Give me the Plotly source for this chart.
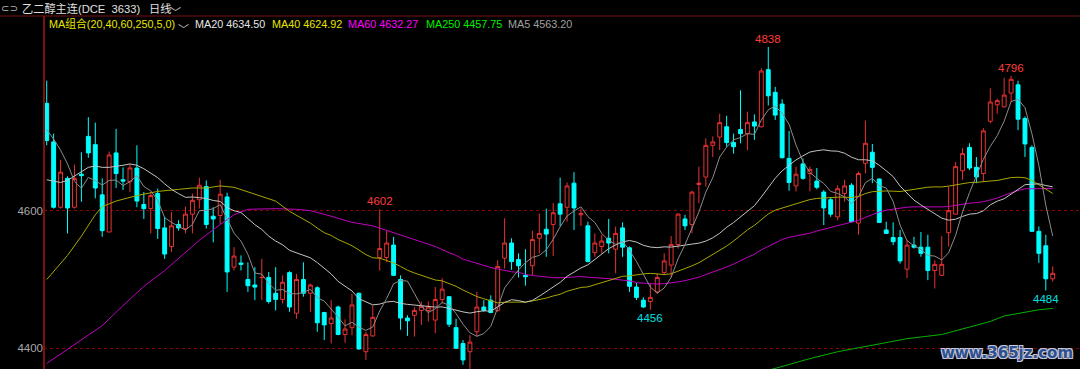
import plotly.graph_objects as go
import pandas as pd

# ---------------- data ----------------
opens = [4756, 4700, 4605, 4647, 4605, 4653, 4708, 4696, 4623, 4569,
         4684, 4645, 4642, 4662, 4609, 4603, 4625, 4575, 4548, 4580,
         4574, 4595, 4616, 4635, 4592, 4593, 4620, 4518, 4524, 4500,
         4492, 4503, 4503, 4480, 4471, 4510, 4451, 4500, 4480, 4488,
         4452, 4436, 4460, 4420, 4430, 4480, 4395, 4418, 4532, 4532,
         4550, 4500, 4444, 4448, 4455, 4455, 4441, 4471, 4475, 4430,
         4407, 4395, 4424, 4460, 4470, 4455, 4531, 4553, 4529, 4506,
         4520, 4560, 4573, 4580, 4610, 4605, 4640, 4594, 4578, 4539,
         4548, 4560, 4544, 4575, 4546, 4489, 4470, 4468, 4482, 4510,
         4521, 4551, 4588, 4580, 4638, 4649, 4695, 4707, 4722, 4699,
         4718, 4712, 4729, 4722, 4805, 4772, 4755, 4676, 4636, 4668,
         4654, 4643, 4627, 4616, 4591, 4625, 4637, 4582, 4669, 4685,
         4646, 4572, 4561, 4561, 4515, 4550, 4547, 4547, 4513, 4506,
         4568, 4595, 4658, 4692, 4663, 4654, 4730, 4754, 4751, 4771,
         4783, 4734, 4692, 4570, 4549, 4501]
highs = [4789, 4712, 4674, 4650, 4667, 4685, 4736, 4728, 4647, 4686,
         4719, 4663, 4668, 4695, 4627, 4627, 4632, 4591, 4598, 4586,
         4606, 4625, 4648, 4644, 4605, 4645, 4626, 4547, 4535, 4525,
         4518, 4530, 4511, 4518, 4506, 4512, 4508, 4525, 4494, 4490,
         4453, 4470, 4462, 4442, 4479, 4481, 4424, 4462, 4602, 4571,
         4562, 4506, 4448, 4460, 4468, 4468, 4489, 4502, 4476, 4443,
         4412, 4419, 4482, 4470, 4477, 4528, 4589, 4560, 4538, 4544,
         4571, 4596, 4603, 4611, 4648, 4641, 4656, 4603, 4584, 4567,
         4565, 4588, 4577, 4583, 4548, 4495, 4474, 4494, 4509, 4538,
         4563, 4596, 4594, 4629, 4664, 4705, 4708, 4741, 4738, 4712,
         4775, 4744, 4740, 4807, 4838, 4780, 4762, 4716, 4664, 4676,
         4664, 4662, 4630, 4620, 4637, 4645, 4640, 4657, 4731, 4697,
         4647, 4584, 4583, 4572, 4557, 4562, 4569, 4565, 4528, 4563,
         4635, 4671, 4691, 4698, 4678, 4720, 4778, 4763, 4793, 4796,
         4789, 4737, 4695, 4577, 4565, 4519]
lows = [4695, 4603, 4603, 4567, 4603, 4613, 4677, 4618, 4562, 4569,
        4633, 4630, 4627, 4605, 4588, 4567, 4559, 4530, 4540, 4571,
        4567, 4567, 4603, 4574, 4554, 4581, 4482, 4513, 4513, 4482,
        4470, 4470, 4465, 4455, 4465, 4453, 4443, 4475, 4453, 4424,
        4412, 4407, 4419, 4408, 4419, 4398, 4383, 4417, 4513, 4525,
        4505, 4427, 4418, 4417, 4434, 4439, 4422, 4465, 4431, 4399,
        4376, 4370, 4417, 4453, 4451, 4453, 4516, 4514, 4503, 4491,
        4506, 4538, 4533, 4534, 4577, 4584, 4572, 4578, 4525, 4533,
        4538, 4538, 4509, 4533, 4482, 4470, 4459, 4456, 4479, 4506,
        4503, 4545, 4572, 4567, 4611, 4635, 4678, 4688, 4693, 4683,
        4698, 4688, 4703, 4721, 4753, 4732, 4676, 4629, 4628, 4645,
        4628, 4631, 4579, 4591, 4586, 4613, 4583, 4565, 4654, 4640,
        4582, 4566, 4550, 4523, 4502, 4545, 4533, 4499, 4487, 4505,
        4548, 4594, 4645, 4659, 4640, 4642, 4727, 4741, 4750, 4758,
        4717, 4678, 4569, 4524, 4484, 4497]
closes = [4702, 4605, 4656, 4604, 4647, 4651, 4684, 4633, 4571, 4681,
          4654, 4643, 4662, 4614, 4603, 4622, 4574, 4537, 4578, 4575,
          4595, 4615, 4637, 4580, 4588, 4624, 4511, 4534, 4522, 4491,
          4489, 4503, 4468, 4471, 4496, 4460, 4500, 4480, 4492, 4437,
          4434, 4444, 4420, 4428, 4463, 4399, 4420, 4445, 4545, 4553,
          4506, 4444, 4440, 4455, 4461, 4460, 4471, 4486, 4435, 4400,
          4383, 4409, 4460, 4455, 4452, 4519, 4553, 4526, 4520, 4504,
          4558, 4567, 4566, 4597, 4595, 4636, 4604, 4596, 4526, 4553,
          4556, 4553, 4567, 4547, 4490, 4474, 4460, 4474, 4503, 4527,
          4551, 4595, 4578, 4627, 4640, 4695, 4700, 4728, 4699, 4693,
          4712, 4728, 4723, 4803, 4767, 4739, 4677, 4641, 4653, 4647,
          4660, 4634, 4604, 4595, 4632, 4636, 4584, 4654, 4698, 4663,
          4583, 4567, 4555, 4527, 4550, 4547, 4538, 4513, 4522, 4522,
          4600, 4664, 4683, 4662, 4649, 4716, 4758, 4760, 4768, 4791,
          4733, 4697, 4570, 4538, 4501, 4509]

# moving-average values before enough visible history exists
ma5_head = [4718, 4704, 4688, 4668]
ma20_head = [4645, 4643, 4641, 4644, 4650, 4657, 4663, 4665, 4663, 4663,
             4664, 4666, 4668, 4666, 4661, 4655, 4648, 4639, 4631]
ma40_head_x = [0, 3, 5, 7, 8, 10, 13, 16, 19, 21, 23, 25, 27, 29, 31, 33, 35, 37, 38]
ma40_head = [4500, 4535, 4563, 4594, 4606, 4614, 4622, 4628, 4631, 4633,
             4633, 4636, 4634, 4627, 4620, 4614, 4599, 4588, 4582]
ma60_head_x = [0, 4, 8, 11, 14, 17, 20, 22, 25, 27, 29, 31, 33, 36, 38, 41,
               44, 47, 50, 53, 56, 58]
ma60_head = [4378, 4406, 4433, 4462, 4490, 4513, 4540, 4557, 4580, 4594,
             4602, 4603, 4603, 4602, 4600, 4592, 4583, 4578, 4568, 4558,
             4548, 4539]
ma250_x = [104, 105, 110, 114, 119, 124, 129, 133, 136, 138, 141, 143, 145]
ma250 = [4368, 4371, 4385, 4395, 4404, 4414, 4420, 4431, 4439, 4447, 4452, 4456, 4458]

y_ticks = [4400, 4600]
peak_idx = [48, 104, 139]
trough_idx = [87, 144]

header_title = "乙二醇主连(DCE\u00a0 3633)"
header_period = "日线"
ma_combo = "MA组合(20,40,60,250,5,0)"
legend_items = ["MA20 4634.50", "MA40 4624.92", "MA60 4632.27",
                "MA250 4457.75", "MA5 4563.20"]

# ---------------- build ----------------
n = len(closes)
idx = list(range(n))
cs = pd.Series(closes, dtype=float)

ma5 = ma5_head + cs.rolling(5).mean().tolist()[4:]
ma20 = ma20_head + cs.rolling(20).mean().tolist()[19:]
ma40_x = ma40_head_x + list(range(39, n))
ma40 = ma40_head + cs.rolling(40).mean().tolist()[39:]
ma60_x = ma60_head_x + list(range(59, n))
ma60 = ma60_head + cs.rolling(60).mean().tolist()[59:]

fig = go.Figure()

line_specs = [
    (ma250_x, ma250, "#00b400"),
    (ma60_x, ma60, "#c000c0"),
    (ma40_x, ma40, "#a8a800"),
    (idx, ma20, "#c4c4c4"),
    (idx, ma5, "#8c8c8c"),
]
for xs, ys, col in line_specs:
    fig.add_trace(go.Scatter(x=xs, y=ys, mode="lines",
                             line=dict(color=col, width=1),
                             hoverinfo="skip", showlegend=False))

fig.add_trace(go.Candlestick(
    x=idx, open=opens, high=highs, low=lows, close=closes,
    increasing=dict(line=dict(color="#e83232", width=1), fillcolor="#000000"),
    decreasing=dict(line=dict(color="#00ffff", width=1), fillcolor="#00ffff"),
    whiskerwidth=0, hoverinfo="skip", showlegend=False))

W, H = 1080, 369
L, T = 44, 16
pw, ph = W - L, H - T


def px(xp):
    return (xp - L) / pw


def py(yp):
    return (H - yp) / ph


ann = []
base_font = "Liberation Sans, Arial, Noto Sans CJK SC, sans-serif"
FS = 10.8


def add_text(text, x, y, color, size=FS, family=base_font, **kw):
    ann.append(dict(text=text, x=px(x), y=py(y), xref="paper", yref="paper",
                    xanchor="left", yanchor="middle", showarrow=False,
                    borderpad=0,
                    font=dict(color=color, size=size, family=family), **kw))


add_text("⊂⊃", 0, 8, "#b4b4b4", size=10, family="DejaVu Sans")
add_text(header_title, 21, 8, "#e0e0e0", size=11.2)
add_text(header_period, 148, 8, "#e0e0e0", size=11.2)
add_text("﹀", 169, 12, "#d0d0d0", size=11, family="Noto Sans CJK SC")

add_text(ma_combo, 48, 24, "#e6e600")
add_text("﹀", 177, 29, "#c8c8c8", size=11, family="Noto Sans CJK SC")
legend_x = [194, 271, 347, 425, 507]
legend_c = ["#e6e6e6", "#e6e600", "#ff00ff", "#00f000", "#a0a0a0"]
for t, xx, c in zip(legend_items, legend_x, legend_c):
    add_text(t, xx, 24, c)

for i in peak_idx:
    ann.append(dict(text=str(highs[i]), x=i, y=highs[i], xref="x", yref="y",
                    showarrow=False, xanchor="center", yanchor="middle", yshift=8,
                    font=dict(color="#ff3c3c", size=11.5, family=base_font)))
for i in trough_idx:
    ann.append(dict(text=str(lows[i]), x=i, y=lows[i], xref="x", yref="y",
                    showarrow=False, xanchor="center", yanchor="middle", yshift=-8,
                    font=dict(color="#00e0e0", size=11.5, family=base_font)))

# site watermark
ann.append(dict(text="www.365jz.com", x=px(1075), y=py(353), xref="paper", yref="paper",
                xanchor="right", yanchor="middle", showarrow=False,
                font=dict(color="#2b4f8f", size=15, family="DejaVu Sans", weight="bold",
                          shadow="1px 1px 0 #c8c8d8, -1px -1px 0 #c8c8d8, 1px -1px 0 #c8c8d8, -1px 1px 0 #c8c8d8")))

frame_col = "#7a1010"
shapes = [
    dict(type="line", xref="paper", yref="paper", x0=-L / pw, x1=1, y0=1, y1=1,
         line=dict(color=frame_col, width=1)),
    dict(type="line", xref="paper", yref="paper", x0=0, x1=0, y0=0, y1=1,
         line=dict(color=frame_col, width=2)),
]

fig.update_layout(
    width=W, height=H,
    margin=dict(l=L, r=0, t=T, b=0, pad=0),
    paper_bgcolor="#000000", plot_bgcolor="#000000",
    showlegend=False, boxgap=0.2,
    xaxis=dict(range=[-0.39, 148.93], showgrid=False, zeroline=False,
               showticklabels=False, showline=False, ticks="",
               rangeslider=dict(visible=False), fixedrange=True),
    yaxis=dict(range=[4369.9, 4883.0], tickvals=y_ticks,
               ticktext=[str(v) for v in y_ticks],
               showgrid=True, gridcolor="#8b0000", griddash="dot", gridwidth=1,
               zeroline=False, showline=False, ticks="",
               tickfont=dict(color="#a8a8a8", size=11.5, family=base_font),
               fixedrange=True),
    annotations=ann, shapes=shapes,
)

fig.write_html("out.html")
